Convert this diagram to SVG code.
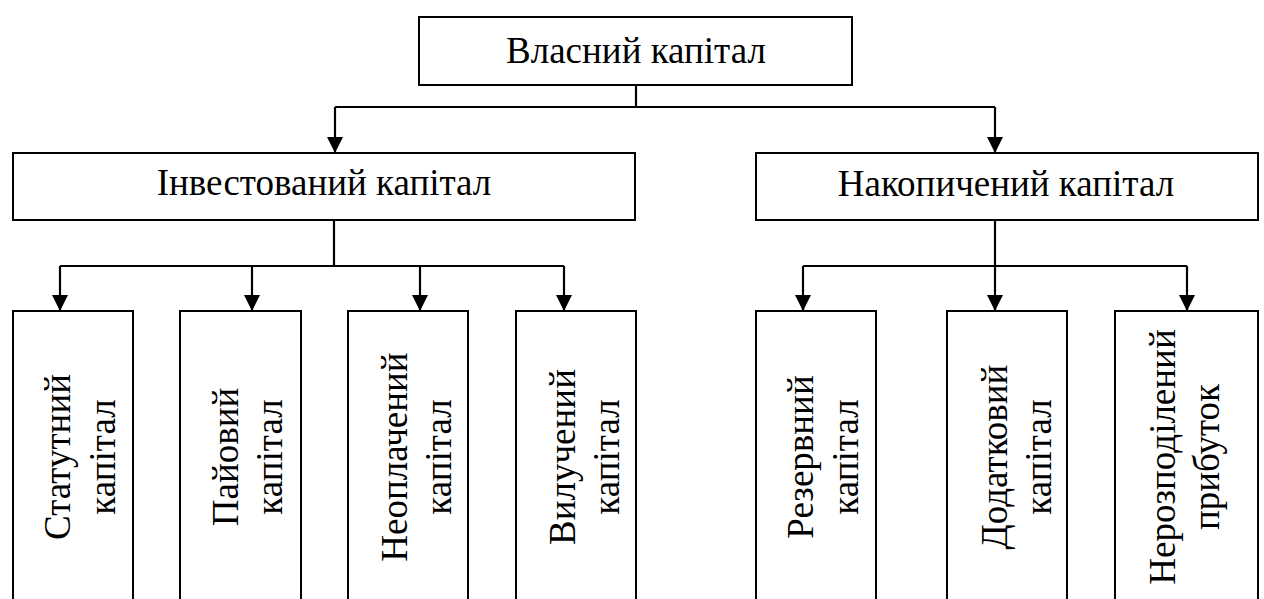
<svg xmlns="http://www.w3.org/2000/svg" width="1264" height="599" viewBox="0 0 1264 599">
<style>
.box{fill:#fff;stroke:#000;stroke-width:2}
.lbl{font-family:"Liberation Serif","Times New Roman",serif;font-size:37px;fill:#000;text-anchor:middle}
.con{fill:none;stroke:#000;stroke-width:2.2}
</style>
<defs>
<marker id="ah" markerUnits="userSpaceOnUse" markerWidth="16" markerHeight="16" refX="16" refY="8" orient="auto" viewBox="0 0 16 16">
<path d="M0,0 L16,8 L0,16 Z" fill="#000"/>
</marker>
</defs>
<rect width="1264" height="599" fill="#fff"/>
<g id="connectors">
<path class="con" d="M636,85 V107"/>
<path class="con" d="M335,107 H995"/>
<path class="con" d="M335,107 V153" marker-end="url(#ah)"/>
<path class="con" d="M995,107 V153" marker-end="url(#ah)"/>
<path class="con" d="M334,220 V266"/>
<path class="con" d="M60,266 H564"/>
<path class="con" d="M60,266 V311" marker-end="url(#ah)"/>
<path class="con" d="M252,266 V311" marker-end="url(#ah)"/>
<path class="con" d="M420,266 V311" marker-end="url(#ah)"/>
<path class="con" d="M564,266 V311" marker-end="url(#ah)"/>
<path class="con" d="M995,220 V266"/>
<path class="con" d="M803,266 H1187"/>
<path class="con" d="M803,266 V311" marker-end="url(#ah)"/>
<path class="con" d="M995,266 V311" marker-end="url(#ah)"/>
<path class="con" d="M1187,266 V311" marker-end="url(#ah)"/>
</g>
<g id="n-vlasnyi">
<rect class="box" x="419" y="17" width="433" height="68"/>
<text class="lbl" x="636" y="63">Власний капітал</text>
</g>
<g id="n-investovanyi">
<rect class="box" x="13" y="153" width="622" height="67"/>
<text class="lbl" x="324" y="195">Інвестований капітал</text>
</g>
<g id="n-nakopychenyi">
<rect class="box" x="756" y="153" width="502" height="67"/>
<text class="lbl" x="1006" y="196">Накопичений капітал</text>
</g>
<g id="n-statutnyi">
<rect class="box" x="13" y="311" width="120" height="300"/>
<text class="lbl" transform="translate(70,457) rotate(-90)">Статутний</text>
<text class="lbl" transform="translate(115,457) rotate(-90)">капітал</text>
</g>
<g id="n-paiovyi">
<rect class="box" x="180" y="311" width="121" height="300"/>
<text class="lbl" transform="translate(238,457) rotate(-90)">Пайовий</text>
<text class="lbl" transform="translate(282,457) rotate(-90)">капітал</text>
</g>
<g id="n-neoplachenyi">
<rect class="box" x="348" y="311" width="120" height="300"/>
<text class="lbl" transform="translate(407,457) rotate(-90)">Неоплачений</text>
<text class="lbl" transform="translate(451,457) rotate(-90)">капітал</text>
</g>
<g id="n-vyluchenyi">
<rect class="box" x="516" y="311" width="120" height="300"/>
<text class="lbl" transform="translate(575,457) rotate(-90)">Вилучений</text>
<text class="lbl" transform="translate(619,457) rotate(-90)">капітал</text>
</g>
<g id="n-rezervnyi">
<rect class="box" x="756" y="311" width="120" height="300"/>
<text class="lbl" transform="translate(813,457) rotate(-90)">Резервний</text>
<text class="lbl" transform="translate(858,457) rotate(-90)">капітал</text>
</g>
<g id="n-dodatkovyi">
<rect class="box" x="947" y="311" width="120" height="300"/>
<text class="lbl" transform="translate(1007,457) rotate(-90)">Додатковий</text>
<text class="lbl" transform="translate(1051,457) rotate(-90)">капітал</text>
</g>
<g id="n-nerozpodilenyi">
<rect class="box" x="1115" y="311" width="143" height="300"/>
<text class="lbl" transform="translate(1175,457) rotate(-90)">Нерозподілений</text>
<text class="lbl" transform="translate(1219,457) rotate(-90)">прибуток</text>
</g>
</svg>
